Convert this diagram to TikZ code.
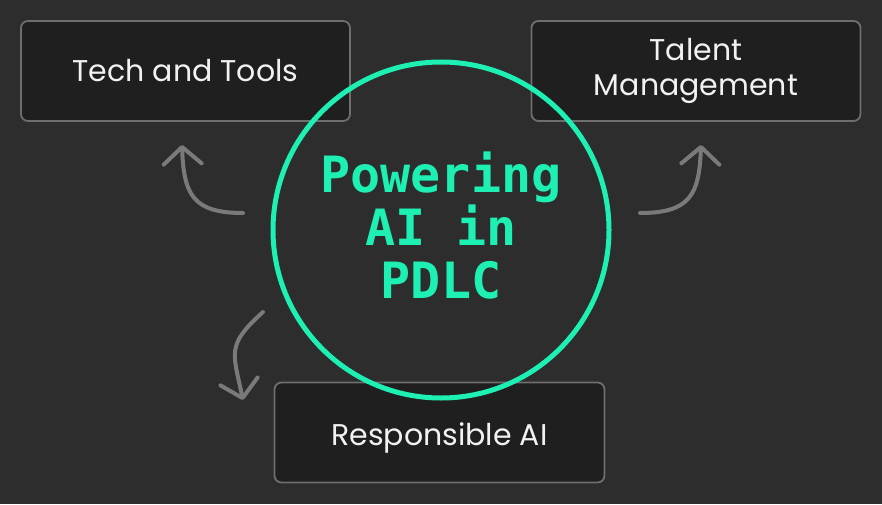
\documentclass[tikz,border=0pt]{standalone}
\usepackage{fontspec}
\usetikzlibrary{arrows.meta}
\setmainfont{Poppins}
\newfontfamily\centerfont{DejaVu Sans Mono}
\definecolor{bg}{RGB}{45,45,45}
\definecolor{boxfill}{RGB}{31,31,32}
\definecolor{boxline}{RGB}{110,110,110}
\definecolor{arrowgray}{RGB}{122,122,122}
\definecolor{mint}{RGB}{30,240,180}
\definecolor{txt}{RGB}{242,242,242}
\begin{document}
\begin{tikzpicture}[x=1pt,y=1pt,
  topicbox/.style={draw=boxline, line width=1.8pt, fill=boxfill, rounded corners=7pt,
    minimum width=329pt, minimum height=100pt, inner sep=0pt, text=txt,
    font=\fontsize{30}{35}\selectfont, align=center},
  curvearrow/.style={draw=arrowgray, line width=4pt, line cap=round,
    -{Straight Barb[length=17pt,width=38pt,round]}},
  hub/.style={circle, draw=mint, line width=5pt, minimum size=336pt, inner sep=0pt}]
\fill[bg] (0,0) rectangle (882,504);
\useasboundingbox (0,0) rectangle (882,504);
\node[topicbox, text depth=0pt, text height=0pt] (tech) at (185.5,433) {};
\node[text=txt, font=\fontsize{30}{35}\selectfont, anchor=base] (techlbl) at (185.5,422) {Tech and Tools};
\node[topicbox] (talent) at (696,433) {Talent\\Management};
\node[topicbox, minimum width=330pt] (resp) at (439.5,71.5) {};
\node[text=txt, font=\fontsize{30}{35}\selectfont, anchor=base] (resplbl) at (439.5,59) {Responsible AI};
\node[hub] (hubc) at (441,274) {};
\node[text=mint, align=center, font=\centerfont\bfseries\fontsize{50}{53}\selectfont] (title) at (441,278) {Powering\\AI in\\PDLC};
\coordinate (lt) at (243,291);
\coordinate (lh) at (182,359);
\coordinate (rt) at (640,291);
\coordinate (rh) at (701,359);
\coordinate (bt) at (263,192);
\coordinate (bh) at (243,104);
\draw[curvearrow] (lt) to[out=180,in=-88,looseness=1.4] (lh);
\draw[curvearrow] (rt) to[out=0,in=-92,looseness=1.4] (rh);
\draw[curvearrow] (bt) to[out=222,in=102,looseness=1.4] (bh);
\end{tikzpicture}
\end{document}
